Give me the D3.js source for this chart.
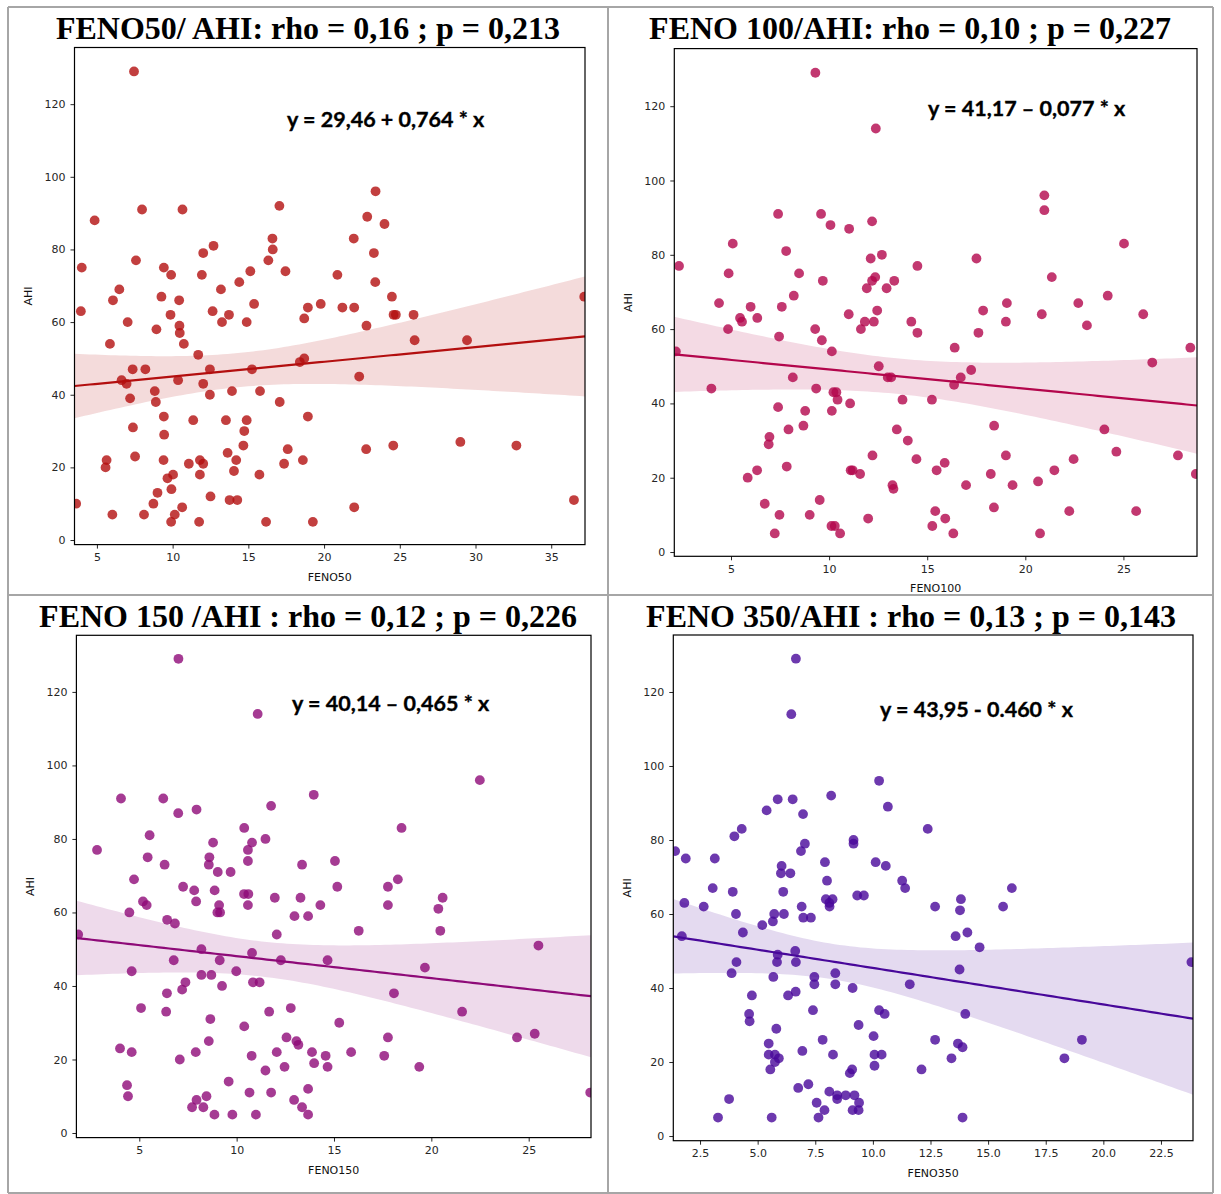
<!DOCTYPE html>
<html>
<head>
<meta charset="utf-8">
<script src="https://cdnjs.cloudflare.com/ajax/libs/d3/7.8.5/d3.min.js"></script>
<style>
  body { margin: 0; background: #fff; }
  .tick text { font-family: "DejaVu Sans", sans-serif; font-size: 11px; fill: #262626; }
</style>
</head>
<body>
<div id="chart"></div>
<script>
//////////DATA//////////
const titles = [
  "FENO50/ AHI: rho = 0,16 ; p = 0,213",
  "FENO 100/AHI: rho = 0,10 ; p = 0,227",
  "FENO 150 /AHI : rho = 0,12 ; p = 0,226",
  "FENO 350/AHI : rho = 0,13 ; p = 0,143",
];
const equations = [
  "y = 29,46 + 0,764 * x",
  "y = 41,17 \u2013 0,077 * x",
  "y = 40,14 \u2013 0,465 * x",
  "y = 43,95 - 0.460 * x",
];
const xLabels = ["FENO50", "FENO100", "FENO150", "FENO350"];
const yLabel = "AHI";

const yTicks = [0, 20, 40, 60, 80, 100, 120];
const xTicks50 = [5, 10, 15, 20, 25, 30, 35];
const xTicks100 = [5, 10, 15, 20, 25];
const xTicks150 = [5, 10, 15, 20, 25];
const xTicks350 = [2.5, 5, 7.5, 10, 12.5, 15, 17.5, 20, 22.5];

// [FENO, AHI]
const feno50Data = [
  [7.45,129],[4.85,88],[4.0,75],[3.94,63],[3.63,10],[7.98,91],[10.65,91],[7.58,77],
  [6.48,69],[6.06,66],[7.03,60],[5.86,54],[6.63,44],[6.96,43],[7.36,47],[8.2,47],
  [7.19,39],[7.38,31],[7.52,23],[5.64,22],[5.57,20],[6.02,7],[8.11,7],[9.42,75],
  [9.9,73],[9.26,67],[9.86,62],[10.43,66],[8.93,58],[10.45,59],[10.47,57],[10.74,54],
  [8.82,41],[8.89,38],[10.36,44],[9.42,34],[9.44,29],[9.4,22],[9.66,17],[10.03,18],
  [9.92,14],[9.0,13],[8.73,10],[10.14,7],[9.9,5],[10.63,9],[11.07,21],[11.75,5],
  [11.8,18],[11.8,22],[12.02,21],[12.5,12],[12.02,79],[12.7,81],[11.93,73],[13.19,69],
  [12.64,63],[13.26,60],[13.72,62],[14.4,71],[15.13,74],[15.38,65],[14.89,60],[11.69,51],
  [12.46,47],[12.02,43],[12.46,40],[11.36,33],[13.52,33],[13.92,41],[14.89,33],[14.73,30],
  [14.67,26],[13.63,24],[14.2,22],[14.05,19],[13.76,11],[14.27,11],[15.24,47],[15.77,41],
  [15.73,18],[16.17,5],[16.32,77],[16.59,83],[16.61,80],[17.05,92],[17.45,74],[17.07,38],
  [17.6,25],[17.36,21],[18.6,22],[18.93,34],[18.4,49],[18.69,50],[18.69,61],[18.93,64],
  [19.26,5],[19.78,65],[20.88,73],[21.21,64],[21.99,64],[21.96,83],[22.85,89],[23.4,96],
  [23.99,87],[23.29,79],[23.38,71],[24.48,67],[24.59,62],[24.74,62],[22.8,59],[25.91,62],
  [25.98,55],[29.44,55],[37.18,67],[22.32,45],[22.78,25],[24.57,26],[29.0,27],[32.7,26],
  [21.99,9],[36.5,11],
];

const feno100Data = [
  [9.3,129],[12.38,114],[2.35,77],[5.09,83],[4.88,75],[4.39,67],[4.85,60],[6.0,66],
  [5.46,63],[5.56,62],[6.34,63],[4.0,44],[2.19,54],[7.4,91],[7.81,81],[7.59,66],
  [8.47,75],[8.2,69],[7.45,58],[8.15,47],[7.4,39],[7.93,33],[6.96,31],[6.92,29],
  [8.78,38],[8.69,34],[5.85,20],[6.33,22],[7.84,23],[6.72,13],[7.47,10],[7.23,5],
  [9.59,91],[10.07,88],[11.02,87],[9.68,73],[9.29,60],[9.63,57],[10.14,54],[9.34,44],
  [10.22,43],[10.37,43],[10.43,41],[10.14,38],[11.07,40],[11.0,64],[9.52,14],[9.01,10],
  [10.12,7],[10.29,7],[10.56,5],[11.1,22],[11.2,22],[11.58,21],[11.99,9],[12.21,26],
  [12.19,89],[12.12,79],[12.69,80],[12.35,74],[12.19,73],[11.92,71],[12.93,71],[13.32,73],
  [12.45,65],[11.82,62],[12.28,62],[11.62,60],[12.53,50],[12.99,47],[13.16,47],[13.74,41],
  [13.45,33],[14.01,30],[13.23,18],[13.28,17],[14.5,77],[14.19,62],[14.5,59],[14.45,25],
  [20.97,96],[20.97,92],[25.03,83],[17.51,79],[21.35,74],[24.2,69],[22.7,67],[19.06,67],
  [17.85,65],[19.01,62],[20.84,64],[23.14,61],[26.01,64],[17.61,59],[16.4,55],[28.41,55],
  [26.47,51],[17.24,49],[16.71,47],[16.37,45],[15.24,41],[18.41,34],[24.03,33],[24.64,27],
  [27.78,26],[19.01,26],[22.46,25],[15.48,22],[15.89,24],[21.48,22],[28.69,21],[18.24,21],
  [16.98,18],[19.35,18],[20.65,19],[15.41,11],[15.92,9],[15.26,7],[16.33,5],[18.4,12],
  [22.24,11],[25.65,11],[20.75,5],
];

const feno150Data = [
  [7.01,129],[11.08,114],[4.06,91],[6.23,91],[7.0,87],[7.94,88],[2.83,77],[5.53,81],
  [5.43,75],[6.3,73],[4.73,69],[4.49,60],[5.19,63],[5.38,62],[6.43,58],[6.83,57],
  [7.25,67],[7.82,66],[7.92,63],[8.79,79],[8.6,75],[8.57,73],[9.03,71],[9.69,71],
  [8.87,66],[9.1,62],[9.01,60],[9.15,60],[10.39,83],[10.79,79],[10.58,77],[10.58,74],
  [11.48,80],[11.77,89],[10.38,65],[10.6,65],[10.58,62],[11.96,64],[13.36,73],[13.28,64],
  [12.97,59],[13.67,59],[13.96,92],[12.06,54],[1.86,54],[8.19,50],[6.77,47],[9.13,47],
  [10.79,49],[12.27,47],[4.61,44],[8.19,43],[8.7,43],[9.98,44],[7.37,41],[7.2,39],
  [9.25,40],[10.84,41],[11.18,41],[6.42,38],[5.09,34],[6.38,33],[8.65,31],[10.39,29],
  [11.67,33],[12.78,34],[4.01,23],[4.61,22],[7.08,20],[7.9,22],[8.57,25],[10.77,21],
  [12.06,22],[12.56,26],[13.07,25],[13.17,24],[11.48,17],[12.46,18],[13.87,22],[13.98,19],
  [4.37,13],[4.42,10],[9.59,14],[10.66,11],[11.77,11],[13.67,12],[12.95,9],[13.36,7],
  [13.67,5],[7.71,7],[7.94,9],[8.29,7],[8.45,10],[8.86,5],[9.78,5],[10.99,5],
  [14.3,62],[22.49,96],[18.47,83],[15.05,74],[15.17,67],[17.77,67],[18.28,69],[17.77,62],
  [20.58,64],[20.36,61],[20.46,55],[16.27,55],[25.5,51],[14.67,47],[19.67,45],[18.08,38],
  [21.58,33],[15.27,30],[17.77,26],[24.4,26],[25.31,27],[14.57,21],[15.88,22],[17.58,21],
  [14.67,18],[19.38,18],[28.16,11],
];

const feno350Data = [
  [6.66,129],[6.46,114],[10.27,96],[10.65,89],[8.19,92],[5.87,91],[6.52,91],[5.39,88],
  [6.97,87],[4.31,83],[3.99,81],[1.42,77],[1.88,75],[3.14,75],[3.05,67],[2.66,62],
  [1.82,63],[1.71,54],[3.92,66],[4.06,60],[4.36,55],[5.2,57],[5.66,58],[5.72,60],
  [6.14,60],[6.11,66],[6.04,73],[6.01,71],[6.42,71],[6.88,77],[7.05,79],[6.91,62],
  [6.98,59],[7.31,59],[7.92,74],[8.01,69],[7.96,64],[8.11,63],[8.12,62],[8.25,64],
  [9.16,80],[9.16,79],[10.12,74],[10.56,73],[9.32,65],[9.61,65],[11.27,69],[11.4,67],
  [5.87,49],[5.84,47],[6.63,50],[6.66,47],[3.87,44],[4.08,47],[5.68,43],[7.46,43],
  [7.46,41],[8.37,44],[8.37,41],[9.12,40],[11.6,41],[4.75,38],[6.32,38],[6.65,39],
  [4.63,33],[4.65,31],[7.4,34],[10.27,34],[10.51,33],[5.81,29],[9.38,30],[5.48,25],
  [5.48,22],[5.75,22],[5.75,20],[5.92,21],[5.55,18],[6.94,23],[7.82,26],[8.27,22],
  [10.03,27],[10.07,22],[10.38,22],[10.07,19],[9.0,17],[9.1,18],[6.76,13],[7.2,14],
  [3.76,10],[3.28,5],[5.61,5],[7.56,9],[7.9,7],[7.64,5],[8.11,12],[8.45,11],
  [8.45,10],[8.82,11],[9.2,11],[9.4,9],[9.12,7],[9.38,7],[12.38,83],[16.03,67],
  [13.82,64],[13.78,61],[12.7,62],[15.65,62],[14.1,55],[13.59,54],[14.63,51],[13.76,45],
  [23.82,47],[14.01,33],[12.7,26],[13.69,25],[13.89,24],[19.07,26],[13.41,21],[18.31,21],
  [12.11,18],[13.89,5],
];

//////////LAYOUT//////////
const svgObj = { width: 1221, height: 1194 };

const panels = [
  { data: feno50Data, xTicks: xTicks50, fmt: "d", color: "#b30f0f",
    xDomain: [3.52, 37.23], yDomain: [-1.26, 135.6],
    left: 74.5, right: 585, top: 47.5, bottom: 544.6,
    titleX: 308, titleY: 39, eqX: 287, eqY: 127 },
  { data: feno100Data, xTicks: xTicks100, fmt: "d", color: "#b3064c",
    xDomain: [2.11, 28.75], yDomain: [-1.15, 135.5],
    left: 674.3, right: 1197, top: 48.6, bottom: 556.3,
    titleX: 910, titleY: 39, eqX: 928, eqY: 116 },
  { data: feno150Data, xTicks: xTicks150, fmt: "d", color: "#8e0a78",
    xDomain: [1.77, 28.2], yDomain: [-1.25, 135.4],
    left: 76.4, right: 591, top: 635.3, bottom: 1137.6,
    titleX: 308, titleY: 627, eqX: 292, eqY: 711 },
  { data: feno350Data, xTicks: xTicks350, fmt: ".1f", color: "#48089a",
    xDomain: [1.34, 23.89], yDomain: [-1.26, 135.4],
    left: 673.3, right: 1193, top: 635, bottom: 1140.7,
    titleX: 911, titleY: 627, eqX: 880, eqY: 717 },
];

// least squares line + 95% confidence band of the mean
const linFit = (pts) => {
  const n = pts.length;
  const mx = d3.mean(pts, (d) => d[0]);
  const my = d3.mean(pts, (d) => d[1]);
  const sxx = d3.sum(pts, (d) => (d[0] - mx) ** 2);
  const sxy = d3.sum(pts, (d) => (d[0] - mx) * (d[1] - my));
  const b = sxy / sxx;
  const a = my - b * mx;
  const sse = d3.sum(pts, (d) => (d[1] - (a + b * d[0])) ** 2);
  const s = Math.sqrt(sse / (n - 2));
  return {
    predict: (x) => a + b * x,
    half: (x) => 1.98 * s * Math.sqrt(1 / n + (x - mx) ** 2 / sxx),
  };
};

const svg = d3
  .select("#chart")
  .append("svg")
  .attr("width", svgObj.width)
  .attr("height", svgObj.height);

// table cell borders
const gridLineColor = "#a6a6a6";
[8, 608, 1213].forEach((x) => {
  svg.append("line").attr("x1", x).attr("x2", x).attr("y1", 7).attr("y2", 1193)
    .attr("stroke", gridLineColor).attr("stroke-width", 2);
});
[7, 595, 1193].forEach((y) => {
  svg.append("line").attr("x1", 8).attr("x2", 1213).attr("y1", y).attr("y2", y)
    .attr("stroke", gridLineColor).attr("stroke-width", 2);
});

panels.forEach((p, i) => {
  const x = d3.scaleLinear().domain(p.xDomain).range([p.left, p.right]);
  const y = d3.scaleLinear().domain(p.yDomain).range([p.bottom, p.top]);

  svg.append("clipPath").attr("id", `clip${i}`)
    .append("rect")
    .attr("x", p.left).attr("y", p.top)
    .attr("width", p.right - p.left).attr("height", p.bottom - p.top);

  const plot = svg.append("g").attr("clip-path", `url(#clip${i})`);

  plot.selectAll("circle")
    .data(p.data)
    .join("circle")
    .attr("cx", (d) => x(d[0]))
    .attr("cy", (d) => y(d[1]))
    .attr("r", 4.9)
    .attr("fill", p.color)
    .attr("fill-opacity", 0.8);

  const fit = linFit(p.data);
  const xs = d3.range(101).map((k) => p.xDomain[0] + (k / 100) * (p.xDomain[1] - p.xDomain[0]));

  plot.append("path")
    .attr("d", d3.area()
      .x((v) => x(v))
      .y0((v) => y(fit.predict(v) - fit.half(v)))
      .y1((v) => y(fit.predict(v) + fit.half(v)))(xs))
    .attr("fill", p.color)
    .attr("fill-opacity", 0.15);

  plot.append("path")
    .attr("d", d3.line().x((v) => x(v)).y((v) => y(fit.predict(v)))(xs))
    .attr("fill", "none")
    .attr("stroke", p.color)
    .attr("stroke-width", 2.2);

  // axes
  const xAxis = svg.append("g")
    .attr("transform", `translate(0, ${p.bottom})`)
    .call(d3.axisBottom(x).tickValues(p.xTicks).tickFormat(d3.format(p.fmt))
      .tickSize(4).tickPadding(5));
  const yAxis = svg.append("g")
    .attr("transform", `translate(${p.left}, 0)`)
    .call(d3.axisLeft(y).tickValues(yTicks).tickFormat(d3.format("d"))
      .tickSize(4).tickPadding(5));
  [xAxis, yAxis].forEach((ax) => {
    ax.select(".domain").remove();
    ax.selectAll(".tick line").attr("stroke", "#262626");
  });

  // frame
  svg.append("rect")
    .attr("x", p.left).attr("y", p.top)
    .attr("width", p.right - p.left).attr("height", p.bottom - p.top)
    .attr("fill", "none").attr("stroke", "#000").attr("stroke-width", 1.2);

  svg.append("text")
    .attr("x", (p.left + p.right) / 2)
    .attr("y", p.bottom + 36)
    .attr("text-anchor", "middle")
    .style("font-family", "DejaVu Sans, sans-serif")
    .style("font-size", "11px")
    .attr("fill", "#111")
    .text(xLabels[i]);

  const ly = (p.top + p.bottom) / 2;
  svg.append("text")
    .attr("x", p.left - 42)
    .attr("y", ly)
    .attr("text-anchor", "middle")
    .attr("transform", `rotate(-90, ${p.left - 42}, ${ly})`)
    .style("font-family", "DejaVu Sans, sans-serif")
    .style("font-size", "11px")
    .attr("fill", "#111")
    .text(yLabel);

  svg.append("text")
    .attr("x", p.titleX)
    .attr("y", p.titleY)
    .attr("text-anchor", "middle")
    .style("font-family", "Liberation Serif, serif")
    .style("font-weight", "bold")
    .style("font-size", "32px")
    .attr("fill", "#000")
    .text(titles[i]);

  svg.append("text")
    .attr("x", p.eqX)
    .attr("y", p.eqY)
    .style("font-family", "Lato, sans-serif")
    .style("font-weight", "bold")
    .style("font-size", "21.5px")
    .attr("fill", "#000")
    .attr("stroke", "#000")
    .attr("stroke-width", 0.35)
    .text(equations[i]);
});
</script>
</body>
</html>
